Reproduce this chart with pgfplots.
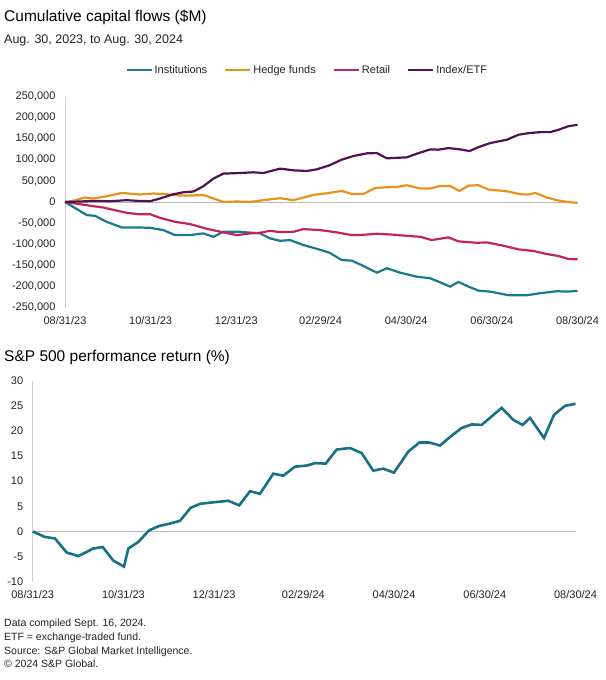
\documentclass[border=0pt]{standalone}
\usepackage{fontspec}
\setmainfont{Liberation Sans}
\usepackage{pgfplots}
\pgfplotsset{compat=1.18}
\usepackage{pgfplotstable}

\definecolor{inst}{RGB}{25,121,142}
\definecolor{hedge}{RGB}{232,146,30}
\definecolor{retail}{RGB}{196,36,92}
\definecolor{indexetf}{RGB}{78,20,82}
\definecolor{spx}{RGB}{24,112,132}
\definecolor{axgray}{RGB}{205,205,205}
\definecolor{txt}{RGB}{35,35,35}

\pgfplotstableread{
day value
0 0
15.5 -31000
21.4 -32800
29.7 -47000
40.4 -60200
51.1 -60200
60.6 -61200
70.0 -66600
78.4 -78400
89.1 -78400
98.5 -74400
105.7 -82400
112.8 -70600
124.7 -70600
138.9 -74400
146.0 -86200
153.1 -91900
160.3 -90300
169.8 -102000
180.5 -112000
188.3 -120000
197.1 -137500
204.3 -139000
212.5 -151600
222.1 -167500
229.2 -157000
238.7 -167500
250.6 -177000
260.1 -180700
266.0 -188700
274.3 -200500
280.2 -189400
287.4 -200500
294.5 -210000
302.8 -212400
315.9 -220900
329.0 -220900
338.4 -216100
350.3 -211400
357.5 -212300
365 -210700
}\instdata

\pgfplotstableread{
day value
0 0
7.1 3800
14.2 10600
20.2 8300
29.7 13700
40.4 21500
53.4 17700
62.9 20100
72.5 18400
81.9 15400
91.4 15400
98.5 16800
105.7 8300
112.8 200
122.3 1200
131.8 200
141.3 4300
153.2 9000
162.7 4300
169.8 10600
176.9 16800
188.3 21500
197.1 26200
204.3 19100
212.5 19100
220.9 33300
229.2 35000
236.3 35700
243.4 39700
252.9 31900
260.1 31900
267.2 38000
274.3 38000
280.9 26200
287.4 39000
294.5 39700
301.6 29500
314.7 25500
324.2 18400
330.1 17700
334.9 21500
343.2 10600
350.3 4300
357.5 200
365 -2100
}\hedgedata

\pgfplotstableread{
day value
0 0
10.7 -5200
20.2 -9900
27.3 -13000
35.6 -19400
44.0 -25700
52.2 -28800
60.6 -28800
67.7 -37600
78.4 -47000
89.1 -52400
101.0 -63500
112.8 -72000
122.3 -78400
131.8 -74400
138.9 -73000
146.0 -68300
153.2 -71300
162.7 -70600
169.8 -64200
181.7 -66600
193.6 -72000
204.3 -78400
212.5 -77700
222.1 -75300
231.5 -76800
243.4 -80100
252.9 -82400
261.3 -90200
273.1 -83800
280.2 -93300
293.3 -96600
300.5 -95700
312.3 -103700
323.0 -112200
333.7 -116200
343.2 -123300
351.5 -128000
358.6 -135100
365 -135800
}\retaildata

\pgfplotstableread{
day value
0 0
10.7 1200
20.2 2600
32.1 1900
44.0 4300
52.2 2600
60.6 1900
67.7 8300
77.2 18400
84.4 23100
91.4 24800
98.5 37300
105.7 55500
112.8 67300
124.7 68700
134.2 70400
141.3 68700
153.2 79100
162.7 75100
172.2 73500
179.4 77500
188.3 86900
197.1 100400
205.4 108900
215.0 115300
222.1 116000
229.2 103500
243.4 105800
250.6 114600
260.1 124700
266.0 124000
273.1 127800
281.4 124700
288.1 120700
294.5 130100
302.8 139600
314.7 147600
323.0 159400
330.1 163200
338.4 165600
345.5 165600
351.5 171200
358.6 179700
365 183000
}\etfdata

\pgfplotstableread{
day value
0 0
8.3 -1.1
15.0 -1.4
22.9 -4.2
30.7 -4.9
40.7 -3.4
47.1 -3.1
54.2 -5.8
61.4 -7.0
64.3 -3.4
71.0 -2.1
78.2 0.2
85.1 1.1
91.2 1.5
99.0 2.1
106.2 4.7
112.5 5.5
121.4 5.8
131.5 6.1
138.9 5.2
146.1 8.0
152.8 7.5
161.8 11.5
168.5 11.1
176.4 12.9
184.0 13.1
190.0 13.6
197.0 13.5
204.4 16.3
213.4 16.6
221.2 15.6
229.0 12.1
235.7 12.5
242.9 11.7
252.6 15.9
260.0 17.7
266.7 17.7
273.9 17.1
280.6 18.8
288.5 20.6
295.2 21.3
301.9 21.2
308.6 22.9
315.4 24.6
323.2 22.2
329.5 21.2
334.4 22.6
343.8 18.6
350.5 23.2
357.9 25.0
365 25.4
}\spxdata

\pgfplotsset{
  mystyle/.style={
    scale only axis,
    axis x line*=bottom, axis y line*=left,
    x axis line style={draw=none},
    y axis line style={draw=axgray, line width=0.9bp},
    major tick length=0pt,
    xmin=0, xmax=365,
    xtick={0,61,122,182,243,304,365},
    xticklabels={08/31/23,10/31/23,12/31/23,02/29/24,04/30/24,06/30/24,08/30/24},
    ticklabel style={font=\fontsize{11bp}{13bp}\selectfont, text=txt},
    yticklabel style={xshift=-6bp},
    /pgf/number format/assume math mode=true,
    clip=false,
  }
}

\begin{document}
\begin{tikzpicture}
\path[use as bounding box] (0,0) rectangle (606bp,-680bp);

\node[anchor=base west, inner sep=0, font=\fontsize{15.5bp}{18bp}\selectfont] at (4bp,-21bp) {Cumulative capital flows (\$M)};
\node[anchor=base west, inner sep=0, font=\fontsize{12.5bp}{15bp}\selectfont, text=txt] at (4bp,-43bp) {Aug. 30, 2023, to Aug. 30, 2024};

\begin{axis}[mystyle,
  at={(65bp,-307.5bp)}, anchor=south west,
  width=512.5bp, height=211bp,
  ymin=-250000, ymax=250000,
  ytick={-250000,-200000,-150000,-100000,-50000,0,50000,100000,150000,200000,250000},
  scaled y ticks=false,
  yticklabel style={/pgf/number format/fixed, /pgf/number format/1000 sep={,}},
  xticklabel style={yshift=-6bp},
  legend columns=4,
  legend style={draw=none, fill=none, at={(0.5,1)}, anchor=center, xshift=-14bp, yshift=26.5bp,
    font=\fontsize{11bp}{13bp}\selectfont, text=txt,
    /tikz/every even column/.append style={column sep=15bp}},
  legend cell align=left,
  legend image code/.code={\draw[#1, line width=2.2bp] (0bp,0bp) -- (25bp,0bp);},
]
\addplot[draw=axgray!90!black, line width=1bp, forget plot] coordinates {(0,0) (365,0)};
\addplot[inst, line width=2.2bp] table[x=day, y=value] {\instdata};
\addlegendentry{Institutions}
\addplot[hedge, line width=2.2bp] table[x=day, y=value] {\hedgedata};
\addlegendentry{Hedge funds}
\addplot[retail, line width=2.2bp] table[x=day, y=value] {\retaildata};
\addlegendentry{Retail}
\addplot[indexetf, line width=2.2bp] table[x=day, y=value] {\etfdata};
\addlegendentry{Index/ETF}
\end{axis}

\node[anchor=base west, inner sep=0, font=\fontsize{15.5bp}{18bp}\selectfont] at (4bp,-361bp) {S\&P 500 performance return (\%)};

\begin{axis}[mystyle,
  at={(32.7bp,-581.7bp)}, anchor=south west,
  width=542.8bp, height=201bp,
  ymin=-10, ymax=30,
  ytick={-10,-5,0,5,10,15,20,25,30},
  xticklabel style={yshift=-5bp},
]
\addplot[draw=axgray!90!black, line width=1bp, forget plot] coordinates {(0,0) (365,0)};
\addplot[spx, line width=2.6bp] table[x=day, y=value] {\spxdata};
\end{axis}

\begin{scope}[every node/.style={anchor=base west, inner sep=0, font=\fontsize{10.5bp}{12bp}\selectfont, text=txt}]
\node at (4bp,-626.5bp) {Data compiled Sept. 16, 2024.};
\node at (4bp,-640bp) {ETF = exchange-traded fund.};
\node at (4bp,-654bp) {Source: S\&P Global Market Intelligence.};
\node at (4bp,-667.5bp) {\textcopyright{} 2024 S\&P Global.};
\end{scope}
\end{tikzpicture}
\end{document}
